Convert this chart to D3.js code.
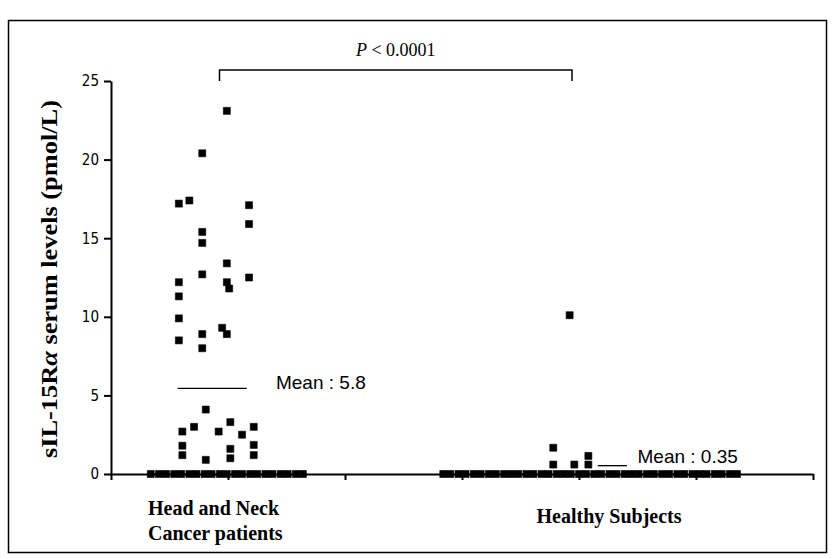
<!DOCTYPE html>
<html>
<head>
<meta charset="utf-8">
<script src="https://cdn.jsdelivr.net/npm/d3@7"></script>
<style>
  body { margin: 0; background: #fff; }
  .tick text { font-family: "DejaVu Sans Condensed", "Liberation Sans Narrow", "Arial Narrow", sans-serif; font-size: 15px; }
</style>
</head>
<body>
<div class="box"></div>
<script>
// --- data (x in axis units 0..6, y in pmol/L) ---
const groups = ['Head and Neck|Cancer patients', 'Healthy Subjects'];

const cancerX = [0.99, 0.78, 0.58, 0.67, 1.18, 1.18, 0.78, 0.78, 0.99, 0.78, 0.58, 0.99,
                 1.01, 1.18, 0.58, 0.58, 0.58, 0.78, 0.78, 0.95, 0.99, 0.81, 0.61, 0.71,
                 0.92, 1.02, 1.12, 1.22, 0.61, 0.61, 0.81, 1.02, 1.02, 1.22, 1.22];
const cancerY = [23.1, 20.4, 17.2, 17.4, 17.1, 15.9, 15.4, 14.7, 13.4, 12.7, 12.2, 12.2,
                 11.8, 12.5, 11.3, 9.9, 8.5, 8.9, 8.0, 9.3, 8.9, 4.1, 2.7, 3.0,
                 2.7, 3.3, 2.5, 3.0, 1.8, 1.2, 0.9, 1.6, 1.0, 1.85, 1.2];
const cancerZeroX = [0.34, 0.41, 0.47, 0.54, 0.60, 0.67, 0.73, 0.80, 0.86, 0.93, 0.99,
                     1.06, 1.12, 1.19, 1.25, 1.32, 1.38, 1.45, 1.51, 1.58, 1.64];

const healthyX = [3.92, 3.78, 3.78, 3.96, 4.08, 4.08];
const healthyY = [10.1, 1.67, 0.6, 0.6, 1.15, 0.6];
const healthyZeroX = [2.84, 2.90, 2.97, 3.03, 3.10, 3.16, 3.23, 3.29, 3.36, 3.42,
                      3.48, 3.55, 3.61, 3.68, 3.74, 3.81, 3.87, 3.93, 4.00, 4.06,
                      4.13, 4.19, 4.26, 4.32, 4.39, 4.45, 4.51, 4.58, 4.64, 4.71,
                      4.77, 4.84, 4.90, 4.97, 5.03, 5.09, 5.16, 5.22, 5.29, 5.35];

// mean bars: [x0, x1, y] and their labels
const meanLines = [[0.57, 1.16, 5.45], [4.16, 4.41, 0.53]];
const meanLabels = ['Mean : 5.8', 'Mean : 0.35'];
const meanLabelX = [1.41, 4.5];

const yTicks = [0, 5, 10, 15, 20, 25];
const xTicks = [0, 1, 2, 3, 4, 5, 6];

// --- svg ---
const svg = d3.select('.box')
              .append('svg')
              .attr('width', 834)
              .attr('height', 559)
              .style('background', 'white');

// outer frame
svg.append('rect')
   .attr('x', 8.5).attr('y', 20.5)
   .attr('width', 818).attr('height', 532)
   .attr('fill', 'none')
   .attr('stroke', 'black')
   .attr('stroke-width', 1.5);

const x = d3.scaleLinear().domain([0, 6]).range([111, 813]);
const y = d3.scaleLinear().domain([0, 25]).range([474, 81]);

// axes
const axeY = d3.axisLeft(y).tickValues(yTicks).tickSize(7).tickPadding(5).tickSizeOuter(0);
const axeX = d3.axisBottom(x).tickValues(xTicks).tickSize(6).tickFormat('').tickSizeOuter(0);

const groupeY = svg.append('g').attr('transform', `translate(${x(0)},0)`).call(axeY);
const groupeX = svg.append('g').attr('transform', `translate(0,${y(0)})`).call(axeX);

[groupeX, groupeY].forEach(g => {
  g.selectAll('path, line').attr('stroke', 'black').attr('stroke-width', 2);
  g.selectAll('text').attr('fill', 'black');
});

// points
const square = d3.symbol().type(d3.symbolSquare).size(49);
const points = [];
cancerX.forEach((v, i) => points.push([v, cancerY[i]]));
cancerZeroX.forEach(v => points.push([v, 0]));
healthyX.forEach((v, i) => points.push([v, healthyY[i]]));
healthyZeroX.forEach(v => points.push([v, 0]));

svg.append('g')
   .selectAll('path')
   .data(points)
   .enter()
   .append('path')
   .attr('d', square)
   .attr('transform', d => `translate(${x(d[0])},${y(d[1])})`)
   .attr('fill', 'black')
   .attr('stroke', 'black')
   .attr('stroke-width', 0.6)
   .attr('stroke-linejoin', 'round');

// mean lines + labels
svg.append('g')
   .selectAll('line')
   .data(meanLines)
   .enter()
   .append('line')
   .attr('x1', d => x(d[0]))
   .attr('x2', d => x(d[1]))
   .attr('y1', d => y(d[2]))
   .attr('y2', d => y(d[2]))
   .attr('stroke', 'black')
   .attr('stroke-width', 1.3);

svg.append('g')
   .selectAll('text')
   .data(meanLabels)
   .enter()
   .append('text')
   .attr('x', (d, i) => x(meanLabelX[i]))
   .attr('y', (d, i) => y(meanLines[i][2]) + [1, -3][i])
   .style('font-family', '"Liberation Sans", Arial, sans-serif')
   .style('font-size', '19px')
   .text(d => d);

// significance bracket
const bx0 = 219.5, bx1 = 572, by = y(25) - 11;
svg.append('path')
   .attr('d', `M${bx0},${by + 11}V${by}H${bx1}V${by + 11}`)
   .attr('fill', 'none')
   .attr('stroke', 'black')
   .attr('stroke-width', 1.5);

const pText = svg.append('text')
   .attr('x', (bx0 + bx1) / 2)
   .attr('y', by - 14)
   .attr('text-anchor', 'middle')
   .style('font-family', '"Liberation Serif", "Times New Roman", serif')
   .style('font-size', '18px');
pText.append('tspan').style('font-style', 'italic').text('P');
pText.append('tspan').text(' < 0.0001');

// category labels
const catFont = '"Liberation Serif", "Times New Roman", serif';
const cat1 = svg.append('text')
   .attr('x', 148).attr('y', 515)
   .style('font-family', catFont).style('font-weight', 'bold').style('font-size', '20px');
cat1.append('tspan').attr('x', 148).text(groups[0].split('|')[0]);
cat1.append('tspan').attr('x', 148).attr('dy', 25).text(groups[0].split('|')[1]);

svg.append('text')
   .attr('x', 609).attr('y', 523)
   .attr('text-anchor', 'middle')
   .style('font-family', catFont).style('font-weight', 'bold').style('font-size', '20px')
   .text(groups[1]);

// y title
const yTitle = svg.append('text')
   .attr('transform', `translate(57, ${y(12.4)}) rotate(-90)`)
   .attr('text-anchor', 'middle')
   .attr('textLength', 358)
   .attr('lengthAdjust', 'spacingAndGlyphs')
   .style('font-family', catFont).style('font-weight', 'bold').style('font-size', '24px');
yTitle.append('tspan').text('sIL-15R');
yTitle.append('tspan').style('font-style', 'italic').text('α');
yTitle.append('tspan').text(' serum levels (pmol/L)');
</script>
</body>
</html>
